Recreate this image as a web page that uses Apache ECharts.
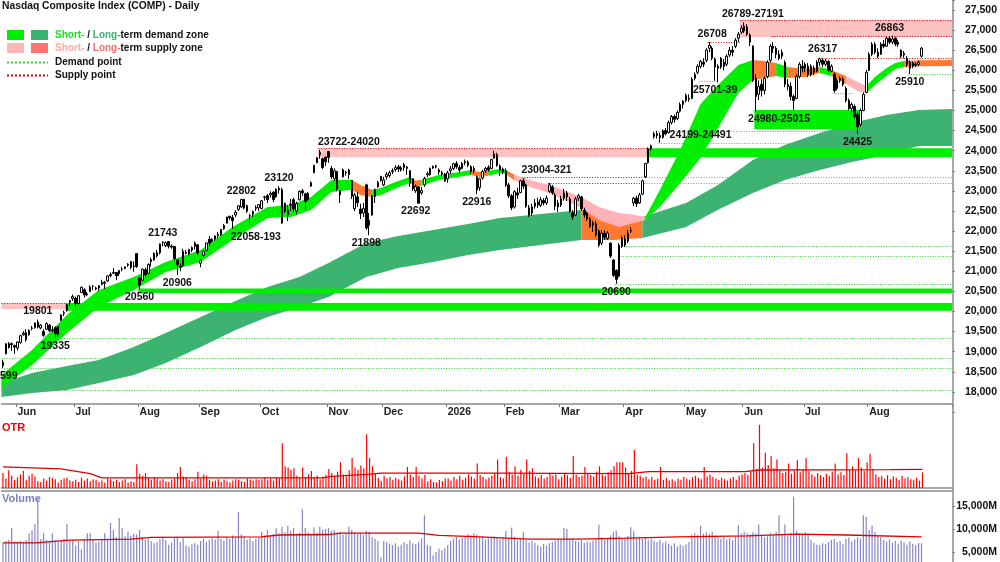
<!DOCTYPE html>
<html><head><meta charset="utf-8">
<script src="https://cdn.jsdelivr.net/npm/echarts@6/dist/echarts.min.js"></script>
<style>html,body{margin:0;padding:0;background:#fff}#c{width:1000px;height:562px}</style>
</head><body><div id="c"></div>
<script>
// ---------- categories ----------
const holidays = ['2025-05-26','2025-06-19','2025-07-04','2025-09-01','2025-11-27','2025-12-25','2026-01-01','2026-01-19','2026-02-16','2026-04-03','2026-05-25','2026-06-19','2026-07-03','2026-09-07'];
const firstDay = '2025-05-23';
const lastSlot = '2026-09-11';
const monthNames = ['Jan','Feb','Mar','Apr','May','Jun','Jul','Aug','Sep','Oct','Nov','Dec'];

// ---------- daily candles [open, close, low, high] ----------
const ohlc = [
// May 2025
[18650,18737,18599,18800],[18950,19199,18930,19210],[19200,19101,19080,19240],[19200,19175,19020,19230],[19150,19114,18950,19180],
// Jun 2025
[19090,19243,19030,19260],[19230,19399,19200,19420],[19420,19460,19400,19510],[19470,19298,19250,19560],[19420,19530,19400,19560],
[19580,19591,19530,19640],[19600,19715,19570,19730],[19740,19615,19580,19801],[19590,19662,19560,19690],[19500,19407,19370,19560],
[19560,19701,19540,19730],[19660,19521,19490,19690],[19530,19546,19480,19640],[19600,19447,19335,19630],[19430,19631,19370,19640],
[19780,19913,19760,19930],[19950,19973,19890,20020],[20020,20168,20000,20190],[20230,20273,20140,20290],[20320,20369,20260,20420],
// Jul 2025
[20330,20202,20130,20370],[20200,20394,20180,20400],[20470,20601,20460,20620],[20540,20412,20350,20580],[20440,20418,20380,20490],
[20500,20611,20480,20650],[20630,20630,20530,20660],[20560,20586,20530,20620],[20580,20640,20520,20660],[20720,20677,20650,20790],
[20700,20730,20560,20760],[20760,20885,20740,20900],[20920,20896,20850,20970],[20950,20974,20930,21080],[20970,20892,20780,20980],
[20940,21020,20880,21030],[21050,21058,21000,21110],[21070,21108,21050,21120],[21150,21178,21110,21200],[21240,21098,21050,21260],
[21110,21130,20990,21250],[21440,21122,21080,21457],
// Aug 2025
[20840,20650,20560,20860],[20780,21053,20760,21070],[21040,20916,20880,21090],[20950,21169,20930,21200],[21290,21242,21120,21340],
[21280,21450,21270,21470],[21460,21385,21340,21530],[21460,21681,21420,21690],[21730,21713,21620,21743],[21640,21710,21600,21740],
[21740,21623,21570,21740],[21600,21629,21560,21670],[21620,21315,21270,21630],[21280,21172,20906,21290],[21130,21100,21000,21200],
[21150,21497,21110,21560],[21470,21449,21420,21530],[21430,21544,21410,21560],[21530,21590,21480,21620],[21620,21705,21540,21740],
[21660,21455,21400,21670],
// Sep 2025
[21200,21279,21100,21300],[21400,21498,21360,21510],[21520,21707,21500,21710],[21800,21700,21630,21880],[21750,21798,21720,21820],
[21800,21879,21760,21890],[21920,21886,21820,21980],[21900,22043,21880,22050],[22060,22141,22030,22180],[22200,22348,22190,22360],
[22370,22333,22280,22380],[22340,22261,22058,22400],[22400,22470,22350,22520],[22540,22631,22500,22650],[22600,22789,22580,22800],
[22790,22573,22540,22802],[22630,22497,22450,22660],[22380,22384,22193,22430],[22420,22484,22350,22510],[22560,22591,22500,22640],
[22580,22660,22500,22670],
// Oct 2025
[22560,22755,22540,22770],[22850,22844,22760,22880],[22880,22780,22700,22920],[22900,22942,22830,22990],[22970,22788,22720,22990],
[22850,23044,22830,23060],[23060,23024,22930,23120],[23030,22204,22180,23080],[22500,22694,22450,22710],[22400,22521,22250,22650],
[22650,22670,22500,22800],[22780,22562,22470,22830],[22500,22680,22420,22730],[22780,22990,22760,23010],[23000,22953,22880,23050],
[22930,22740,22530,22950],[22780,22941,22760,22970],[23120,23205,23100,23240],[23450,23637,23440,23650],[23700,23827,23690,23840],
[23900,23958,23800,24020],[23800,23581,23540,23830],[23840,23725,23620,23850],
// Nov 2025
[23980,23834,23700,23990],[23560,23349,23300,23620],[23300,23499,23250,23560],[23480,23054,23000,23500],[22900,23004,22700,23010],
[23350,23527,23330,23560],[23450,23468,23380,23500],[23520,23406,23300,23550],[23260,22870,22800,23270],[22560,22900,22500,22950],
[22850,22708,22600,22980],[22550,22432,22300,22680],[22450,22564,22350,22700],[23150,22078,22030,23180],[22150,22273,21898,22450],
[22400,22872,22380,22900],[22860,23025,22700,23060],[23100,23214,23080,23250],[23260,23365,23230,23370],
// Dec 2025
[23150,23275,23120,23350],[23350,23413,23280,23470],[23380,23454,23330,23500],[23480,23505,23420,23560],[23530,23578,23480,23640],
[23600,23545,23470,23650],[23520,23576,23480,23620],[23580,23654,23500,23700],[23560,23593,23400,23620],[23500,23195,23100,23520],
[23300,23057,23000,23320],[23000,23111,22950,23160],[23100,22693,22692,23120],[22950,23006,22900,23100],[23150,23307,23100,23350],
[23400,23428,23340,23480],[23400,23562,23380,23580],[23570,23613,23550,23630],[23620,23593,23560,23650],[23520,23474,23400,23560],
[23450,23419,23380,23500],[23420,23242,23230,23440],
// Jan 2026
[23300,23450,23200,23500],[23500,23550,23420,23620],[23560,23680,23520,23700],[23680,23600,23550,23740],[23580,23520,23460,23640],
[23560,23690,23540,23720],[23700,23730,23640,23780],[23720,23640,23590,23760],[23600,23480,23420,23640],[23500,23560,23440,23620],
[23350,23020,22916,23380],[23080,23300,23000,23330],[23320,23480,23280,23520],[23500,23560,23450,23600],[23580,23520,23480,23640],
[23560,23780,23540,23800],[23820,23920,23800,24000],[23900,23640,23600,23950],[23620,23520,23380,23660],[23540,23480,23420,23580],
// Feb 2026
[23500,23150,23100,23560],[23150,22880,22820,23200],[22880,22580,22520,22920],[22600,22980,22560,23020],[22950,22900,22800,23080],
[22960,23250,22940,23280],[23250,23120,23050,23321],[23150,22620,22580,23180],[22580,22400,22350,22650],[22450,22600,22380,22680],
[22620,22700,22560,22800],[22720,22650,22580,22830],[22640,22780,22600,22850],[22760,22700,22640,22820],[22700,22820,22650,22880],
[22990,23150,22950,23200],[23100,22950,22900,23150],[22900,22620,22520,22950],[22600,22700,22480,22780],
// Mar 2026
[22650,22800,22600,22880],[22820,22950,22760,23050],[22950,22850,22750,23000],[22800,22500,22450,22850],[22450,22350,22275,22520],
[22400,22800,22380,22850],[22820,22880,22750,22930],[22850,22550,22500,22880],[22520,22400,22330,22580],[22450,22300,22250,22480],
[22300,22120,22080,22350],[22150,22200,21980,22260],[22180,21900,21850,22250],[22000,21650,21600,22050],[21700,21950,21650,22030],
[21950,21850,21780,22020],[21820,21950,21780,22000],[21700,21380,21330,21720],[21280,20900,20860,21300],[21020,20800,20690,21050],
[20880,21650,20850,21700],[21620,21830,21580,21880],
// Apr 2026
[21800,21650,21600,21900],[21750,21950,21700,22030],[22000,22020,21950,22100],[22700,22820,22620,22850],[22820,22680,22600,22880],
[22700,22900,22680,22950],[22920,23250,22900,23280],[23350,23680,23320,23700],[23700,24050,23680,24080],[24050,24120,24000,24150],
[24350,24420,24300,24470],[24420,24380,24300,24491],[24380,24330,24199,24450],[24330,24500,24300,24530],[24500,24420,24380,24560],
[24450,24700,24430,24750],[24700,24850,24650,24890],[24850,24780,24700,24900],[24800,24950,24760,25000],[24980,25150,24950,25200],
[25150,25230,25050,25260],
// May 2026
[25250,25380,25200,25420],[25300,25280,25220,25400],[25300,25780,25280,25830],[25800,25900,25750,25950],[25950,26100,25900,26150],
[26100,26220,26050,26260],[26200,26150,26080,26300],[26250,26500,26200,26550],[26550,26620,26450,26708],[26550,26300,26250,26600],
[26280,26080,25739,26320],[26100,26050,25701,26150],[26080,26300,26030,26330],[26200,26100,26000,26280],[26150,26350,26100,26400],
[26380,26500,26330,26580],[26500,26450,26350,26600],[26600,26750,26550,26800],[26800,26900,26700,26950],[26950,27050,26900,27120],
// Jun 2026
[26980,27100,26930,27191],[27080,26900,26850,27150],[26880,26700,26600,26920],[26600,25750,25710,26620],[25800,25350,24980,25900],
[25400,25600,25260,25750],[25650,25500,25350,25780],[25500,25800,25400,25850],[25850,26200,25800,26250],[26250,26600,26200,26650],
[26600,26550,26430,26700],[26550,26400,26300,26600],[26400,26300,26250,26500],[26350,26450,26280,26520],[26200,25650,25580,26250],
[25650,25600,25500,25780],[25600,25350,25250,25700],[25350,25250,25015,25400],[25300,25850,25280,25900],[25850,26150,25800,26200],
[26100,26050,25950,26250],
// Jul 2026
[26050,26150,25950,26200],[26100,25900,25830,26180],[25900,26100,25850,26150],[26050,25950,25880,26120],[25980,26200,25950,26250],
[26200,26280,26100,26317],[26250,26150,26080,26300],[26150,26230,26100,26280],[26220,26000,25960,26250],[25980,26100,25950,26150],
[25900,25500,25440,25950],[25550,25750,25500,25800],[25750,25800,25690,25850],[25780,25650,25600,25830],[25550,25250,25200,25600],
[25250,25050,25010,25300],[25050,25150,24950,25200],[25100,24850,24800,25150],[24900,24600,24425,24950],[24650,25000,24600,25050],
[25000,25400,24980,25450],[25450,25950,25430,26010],
// Aug 2026
[26000,26400,25980,26450],[26400,26650,26350,26700],[26650,26450,26400,26700],[26450,26350,26300,26550],[26400,26650,26380,26700],
[26650,26600,26550,26750],[26600,26800,26580,26830],[26800,26700,26650,26850],[26700,26780,26650,26863],[26800,26650,26600,26830],
[26650,26700,26580,26760],[26500,26350,26300,26520],[26380,26420,26300,26480],[26300,26150,26080,26350],[26200,26050,25910,26250],
[26100,26180,26050,26220],[26150,26130,26080,26200],[26150,26200,26100,26250],[26350,26550,26320,26580]
];

// ---------- OTR (relative units) ----------
const otr = [
22,14,26,18,12,
16,20,25,12,18,21,17,10,9,14,11,16,15,13,8,12,14,15,11,10,
12,9,15,11,14,10,13,12,9,11,8,14,13,10,12,9,11,13,8,10,9,35,
21,18,22,15,12,16,14,11,13,10,9,12,14,22,31,17,15,12,10,13,24,
14,20,18,12,10,11,13,9,12,10,8,11,13,12,10,9,14,12,11,13,12,
13,15,12,14,11,16,14,66,32,30,27,29,18,14,30,16,20,25,15,18,13,17,19,
28,22,18,24,38,20,17,26,44,30,27,33,29,79,44,32,22,15,10,
18,14,16,12,15,13,11,17,31,20,16,31,18,14,19,10,13,9,8,12,10,14,
14,11,16,13,18,12,15,20,17,14,36,19,16,13,15,18,22,42,16,14,
46,24,20,32,18,27,21,42,25,29,17,15,19,14,16,22,18,20,13,
17,22,19,15,47,20,16,18,31,21,19,17,24,32,20,18,23,26,32,38,38,38,
30,22,25,56,20,18,15,17,13,16,12,14,31,12,15,11,13,10,14,12,16,
14,12,16,18,15,13,31,17,20,16,14,12,15,13,11,14,16,12,18,20,
22,19,24,66,28,93,30,52,34,47,29,42,26,22,24,36,21,25,41,23,27,
44,25,20,17,22,19,16,21,18,24,36,20,23,19,51,27,32,26,44,30,25,38,
50,28,20,16,18,14,19,13,17,15,12,18,14,16,13,12,15,11,23
];
const otrAvg = [[0,31],[20,28],[30,21],[34,15],[110,15],[113,17],[125,20],[130,22],[170,22],[215,21],[222,24],[255,24],[260,26.5],[305,27],[316,27.5]];

// ---------- Volume (millions) ----------
const volume = [
7000,7400,7600,10200,7300,
7200,7400,7100,7600,9100,9800,11100,16700,7800,9100,7600,7400,9100,7500,7300,7600,7900,11100,7400,7600,
6400,7300,5600,7700,9100,9100,7600,7000,7300,7900,9100,7600,11300,9800,8200,12400,10200,8400,9400,8600,9000,8800,
9800,8200,7600,7900,7400,6900,7100,7800,8300,7600,6600,7000,8100,8300,7200,8000,6400,6200,6700,6900,6600,
7400,7900,7200,7600,8000,7700,9600,7800,7500,8200,7900,8600,8100,13700,8800,8300,7700,8000,7400,7900,8200,
9400,8600,9800,8700,8900,10200,9100,10500,9300,10700,9600,10200,9000,9200,14300,10200,9300,8900,10400,9200,10500,9800,10000,
10200,9600,9800,9200,9400,8800,9000,10500,9800,9300,8900,9100,8700,9600,9400,8200,7800,7400,3900,
7400,7200,6800,6500,6900,6200,6600,7100,6800,7500,6900,6700,7200,7900,13000,6600,6300,4300,5000,5700,5400,5800,
6500,7400,7900,8300,7700,8100,8400,8900,8700,9100,8800,8200,8500,7700,7900,8100,8400,8000,7800,8200,
9600,7800,10300,8300,7500,7900,9400,7600,7100,7400,7000,6500,6200,6800,6400,6900,7200,7500,7700,
7800,10200,10000,7900,8000,7400,7200,7600,7000,7300,7100,7500,7700,10900,8200,7600,7900,8600,9400,9600,8400,8000,
8200,8500,10400,9600,8000,8300,7800,8100,7600,7900,7400,7200,7600,7000,7300,6800,6400,6900,6200,6600,6300,
6700,7200,8800,9100,8700,10700,9000,9300,8900,9400,8600,8200,7900,8300,7700,8000,7600,8400,10800,9000,
9400,9100,8800,9300,9000,11000,8600,8200,8400,9100,8800,9400,13000,8900,11000,8600,9200,17000,9600,9100,8800,
9300,8700,7600,7000,6600,6500,6900,6700,7200,7600,7900,7100,7400,6800,7800,8100,7300,7700,8200,7900,13000,12600,
9800,10700,9400,8600,8200,7600,7300,7700,7000,7400,6800,7500,7100,6600,7300,6800,6500,7000,6900
];
const volAvg = [[0,7000],[11,7000],[23,7600],[44,7800],[51,8200],[89,8300],[95,8700],[112,8800],[116,9100],[143,9100],[150,8600],[164,8300],[181,7800],[198,7800],[215,8000],[232,8300],[256,8500],[273,8900],[290,8700],[316,8300]];

// ---------- long-term band (index, upper, lower) ----------
const longIdx = [0,10,22,33,45,56,68,80,91,102,112,125,136,148,160,171,185,199,210,220,235,246,258,269,281,292,304,315,326];
const longUp  = [18221,18470,18644,18793,19117,19465,19863,20261,20609,20858,21206,21704,21878,22027,22177,22326,22425,22525,22425,22351,22699,23150,23769,24142,24440,24689,24888,25012,25037];
const longLo  = [17873,17973,18047,18221,18420,18719,19117,19540,19863,20112,20361,20858,21082,21231,21405,21530,21654,21779,21779,21828,22102,22530,22948,23271,23520,23719,23893,24117,24117];
const longSegs = [[0,199,'demand'],[199,220,'supply'],[220,326,'demand']];

// ---------- short-term band ----------
const shortIdx = [0,10,22,33,45,56,68,79,91,99,106,113,120,123,127,130,135,140,142,144,150,156,161,164,167,171,173,176,182,188,199,205,212,216,221,226,233,240,246,253,258,262,266,270,276,281,285,290,294,297,300,304,307,310,316,326];
const shortUp  = [18420,19042,19913,20535,20858,21231,21530,22102,22600,22649,22848,23271,23280,23150,23030,23072,23220,23346,23250,23280,23395,23460,23520,23470,23500,23545,23520,23400,23250,23147,22848,22600,22450,22420,22351,23022,24017,25162,25634,26132,26256,26231,26182,26082,26032,26082,26007,25858,25709,25609,25833,26057,26182,26231,26250,26256];
const shortLo  = [18097,18669,19465,20112,20535,20982,21231,21779,22326,22351,22525,22972,23030,22900,22850,22898,23060,23196,23100,23130,23271,23340,23395,23346,23380,23445,23420,23260,23080,22948,22574,22276,22102,22180,22276,22600,23196,23818,24565,25435,25759,25808,25858,25808,25833,25933,25858,25659,25485,25435,25634,25858,26032,26082,26100,26107];
const shortSegs = [[0,120,'demand'],[120,127,'turn'],[127,140,'demand'],[140,144,'turn'],[144,161,'demand'],[161,167,'turn'],[167,173,'demand'],[173,176,'turn'],[176,221,'supply'],[221,258,'demand'],[258,266,'turn'],[266,270,'demand'],[270,281,'turn'],[281,285,'demand'],[285,290,'turn'],[290,297,'supply'],[297,310,'demand'],[310,326,'turn']];

// ---------- zones [fromIdx, toIdx, low, high, kind] ----------
const zones = [
[0,22,20060,20210,'supply'],
[22,326,20020,20210,'demand'],
[47,326,20460,20570,'demand'],
[109,222,23840,24060,'supply'],
[222,326,23840,24060,'demand'],
[254,326,26830,27250,'supply'],
[259,294,24540,25015,'demand']
];

// ---------- demand / supply points [fromIdx, toIdx, level, kind] ----------
const levels = [
[0,326,18050,'demand'],[0,326,18599,'demand'],[0,326,18843,'demand'],[18,326,19335,'demand'],
[0,22,20210,'supply'],[109,222,24060,'supply'],[179,221,23340,'supply'],[188,221,23200,'supply'],
[221,326,23340,'demand'],[221,326,23200,'demand'],[211,326,20690,'demand'],[213,326,21380,'demand'],[214,326,21629,'demand'],
[225,326,24491,'demand'],[226,326,24199,'demand'],[240,246,25739,'demand'],[286,292,25440,'demand'],[312,326,25910,'demand'],
[243,253,26708,'supply'],[254,326,27250,'supply'],[265,326,26863,'supply'],[281,326,26317,'supply']
];

// ---------- annotations [text, index, level, side] ----------
const notes = [
['18599',0,18599,'below'],['19801',12,19801,'above'],['19335',18,19335,'below'],['20560',47,20560,'below'],
['21743',55,21743,'above'],['20906',60,20906,'below'],['22802',82,22802,'above'],['22058-193',87,22058,'below'],
['23120',95,23120,'above'],['23722-24020',119,24020,'above'],['21898',125,21898,'below'],['22692',142,22692,'below'],
['22916',163,22916,'below'],['23004-321',187,23321,'above'],['20690',211,20690,'below'],['24199-24491',240,24199,'above'],
['26708',244,26708,'above'],['25701-39',245,25701,'below'],['26789-27191',258,27191,'above'],['24980-25015',267,24980,'below'],
['26317',282,26317,'above'],['24425',294,24425,'below'],['26863',305,26863,'above'],['25910',312,25910,'below']
];

// ================= build =================
const FONT = '"Liberation Sans", Arial, Helvetica, sans-serif';
const days = [];
(function(){
  let t = Date.parse(firstDay + 'T00:00:00Z');
  const end = Date.parse(lastSlot + 'T00:00:00Z');
  while (t <= end) {
    const d = new Date(t); const wd = d.getUTCDay(); const s = d.toISOString().slice(0,10);
    if (wd > 0 && wd < 6 && holidays.indexOf(s) < 0) days.push(s);
    t += 86400000;
  }
})();
const isMonthStart = (i) => i > 0 && i < ohlc.length && days[i].slice(5,7) !== days[i-1].slice(5,7);

const C = {
  shortDemand: '#00ee00', longDemand: '#3cb371', turn: '#ff7a30', shortSupply: '#ffb3b8',
  zoneSupply: '#ffc2c2', dotDemand: '#33d433', dotSupply: '#e00000'
};
const shortColors = {demand: C.shortDemand, turn: C.turn, supply: C.shortSupply};
const longColors = {demand: C.longDemand, supply: C.turn};
const lastIdx = days.length - 1;

function ext(i, half) { return i === 0 ? -half : (i >= lastIdx ? half : 0); }

function bandSeries(idx, up, lo, segs, colors, z) {
  return {
    type: 'custom', xAxisIndex: 0, yAxisIndex: 0, z: z, silent: true, clip: true,
    data: segs.map((s, k) => [s[0], up[idx.indexOf(s[0])], k]),
    encode: {x: 0, y: 1},
    renderItem: function (params, api) {
      const seg = segs[api.value(2)];
      const half = api.size([1, 0])[0] / 2;
      const top = [], bot = [];
      for (let j = 0; j < idx.length; j++) {
        const i = idx[j];
        if (i < seg[0] || i > seg[1]) continue;
        const dx = ext(i, half);
        const a = api.coord([i, up[j]]), b = api.coord([i, lo[j]]);
        top.push([a[0] + dx, a[1]]); bot.push([b[0] + dx, b[1]]);
      }
      return {type: 'polygon', shape: {points: top.concat(bot.reverse())}, style: {fill: colors[seg[2]]}};
    }
  };
}
function zoneSeries(kind, color, z) {
  const list = zones.filter(r => r[4] === kind);
  return {
    type: 'custom', xAxisIndex: 0, yAxisIndex: 0, z: z, silent: true, clip: true,
    data: list.map((r, k) => [r[0], r[3], k]), encode: {x: 0, y: 1},
    renderItem: function (params, api) {
      const r = list[api.value(2)];
      const half = api.size([1, 0])[0] / 2;
      const p1 = api.coord([r[0], r[3]]), p2 = api.coord([r[1], r[2]]);
      const x1 = p1[0] - half, x2 = p2[0] + half;
      return {type: 'rect', shape: {x: x1, y: p1[1], width: x2 - x1, height: p2[1] - p1[1]}, style: {fill: color}};
    }
  };
}
function levelSeries(z) {
  return {
    type: 'custom', xAxisIndex: 0, yAxisIndex: 0, z: z, silent: true, clip: true,
    data: levels.map((r, k) => [r[0], r[2], k]), encode: {x: 0, y: 1},
    renderItem: function (params, api) {
      const r = levels[api.value(2)];
      const half = api.size([1, 0])[0] / 2;
      const p1 = api.coord([r[0], r[2]]), p2 = api.coord([r[1], r[2]]);
      const y = Math.round(p1[1]) + 0.5;
      return {type: 'line', shape: {x1: p1[0] - half, y1: y, x2: p2[0] + half, y2: y},
        style: {stroke: r[3] === 'demand' ? C.dotDemand : C.dotSupply, lineWidth: 1, lineDash: [1, 1.6]}};
    }
  };
}
function noteSeries(z) {
  return {
    type: 'custom', xAxisIndex: 0, yAxisIndex: 0, z: z, silent: true, clip: false,
    data: notes.map((n, k) => [n[1], n[2], k]), encode: {x: 0, y: 1},
    renderItem: function (params, api) {
      const n = notes[api.value(2)];
      const p = api.coord([n[1], n[2]]);
      return {type: 'text', x: p[0], y: p[1] + (n[3] === 'above' ? -8 : 8),
        style: {text: n[0], fill: '#111', font: 'bold 10.5px ' + FONT, align: 'center', verticalAlign: 'middle'}};
    }
  };
}

const chart = echarts.init(document.getElementById('c'), null, {renderer: 'canvas'});
const legendFont = 'bold 10px ' + FONT;
chart.setOption({
  animation: false,
  backgroundColor: '#ffffff',
  textStyle: {fontFamily: FONT},
  title: {text: 'Nasdaq Composite Index (COMP) - Daily', left: 2, top: 1.5, padding: 0,
    textStyle: {fontSize: 10.3, fontWeight: 'bold', color: '#111', fontFamily: FONT}},
  grid: [
    {left: 1.5, right: 47, top: 0, height: 412},
    {left: 1.5, right: 47, top: 419, height: 69},
    {left: 1.5, right: 47, top: 490.5, bottom: 0}
  ],
  xAxis: [
    {type: 'category', gridIndex: 0, data: days, boundaryGap: true, offset: -8,
      axisLine: {lineStyle: {color: '#8a8a8a', width: 1.5}},
      axisTick: {show: true, interval: (i) => isMonthStart(i), length: 3, lineStyle: {color: '#777'}},
      axisLabel: {interval: (i) => isMonthStart(i), align: 'left', margin: 3, fontSize: 10.5, fontWeight: 'bold', color: '#222', fontFamily: FONT,
        formatter: (v) => { const m = +v.slice(5,7); return m === 1 ? v.slice(0,4) : monthNames[m-1]; }},
      splitLine: {show: false}},
    {type: 'category', gridIndex: 1, data: days, position: 'top', boundaryGap: true,
      axisLine: {lineStyle: {color: '#8a8a8a', width: 1.5}}, axisTick: {show: false}, axisLabel: {show: false}},
    {type: 'category', gridIndex: 2, data: days, position: 'top', boundaryGap: true,
      axisLine: {lineStyle: {color: '#8a8a8a', width: 1.5}}, axisTick: {show: false}, axisLabel: {show: false}}
  ],
  yAxis: [
    {type: 'value', gridIndex: 0, position: 'right', min: 17500, max: 27749, interval: 500,
      axisLine: {show: false}, axisTick: {show: true, length: 3, lineStyle: {color: '#888'}}, splitLine: {show: false},
      axisLabel: {align: 'right', margin: 45, fontSize: 10.5, fontWeight: 'bold', color: '#111', fontFamily: FONT,
        formatter: (v) => (v < 18000 || v > 27500) ? '' : v.toLocaleString('en-US')}},
    {type: 'value', gridIndex: 1, min: 0, max: 101.5, show: false},
    {type: 'value', gridIndex: 2, position: 'right', min: 2826, max: 18370, splitNumber: 3,
      axisLine: {show: false}, axisTick: {show: true, length: 3, lineStyle: {color: '#888'}}, splitLine: {show: false},
      axisLabel: {align: 'right', margin: 45, fontSize: 10.5, fontWeight: 'bold', color: '#111', fontFamily: FONT, showMinLabel: false, showMaxLabel: false,
        formatter: (v) => (v % 5000 !== 0) ? '' : v.toLocaleString('en-US') + 'M'}}
  ],
  series: [
    zoneSeries('supply', C.zoneSupply, 1),
    levelSeries(2),
    bandSeries(longIdx, longUp, longLo, longSegs, longColors, 3),
    zoneSeries('demand', C.shortDemand, 4),
    bandSeries(shortIdx, shortUp, shortLo, shortSegs, shortColors, 5),
    {type: 'candlestick', xAxisIndex: 0, yAxisIndex: 0, z: 10, data: ohlc, barWidth: 2,
      itemStyle: {color: '#ffffff', color0: '#000000', borderColor: '#000000', borderColor0: '#000000', borderWidth: 1}},
    noteSeries(12),
    {type: 'bar', xAxisIndex: 1, yAxisIndex: 1, data: otr, barWidth: 1.2, itemStyle: {color: '#ff0000'}, z: 2},
    {type: 'line', xAxisIndex: 1, yAxisIndex: 1, data: otrAvg, showSymbol: false, lineStyle: {color: '#dd0000', width: 1.3}, z: 3},
    {type: 'bar', xAxisIndex: 2, yAxisIndex: 2, data: volume, barWidth: 1.2, itemStyle: {color: '#8686c6'}, z: 2},
    {type: 'line', xAxisIndex: 2, yAxisIndex: 2, data: volAvg, showSymbol: false, lineStyle: {color: '#e00000', width: 1.3}, z: 3}
  ],
  graphic: [
    {type: 'line', shape: {x1: 953, y1: 0, x2: 953, y2: 562}, style: {stroke: '#8a8a8a', lineWidth: 1.5}, z: 100},
    {type: 'rect', shape: {x: 7, y: 30, width: 17, height: 10}, style: {fill: C.shortDemand}},
    {type: 'rect', shape: {x: 31, y: 30, width: 17, height: 10}, style: {fill: C.longDemand}},
    {type: 'rect', shape: {x: 7, y: 43, width: 17, height: 10}, style: {fill: '#ffb6b6'}},
    {type: 'rect', shape: {x: 31, y: 43, width: 17, height: 10}, style: {fill: '#ff7373'}},
    {type: 'line', shape: {x1: 7, y1: 62.5, x2: 48, y2: 62.5}, style: {stroke: C.dotDemand, lineWidth: 2, lineDash: [2, 2]}},
    {type: 'line', shape: {x1: 7, y1: 75.5, x2: 48, y2: 75.5}, style: {stroke: C.dotSupply, lineWidth: 2, lineDash: [2, 2]}},
    {type: 'text', x: 55, y: 35, style: {text: '{a|Short-} / {b|Long-}term demand zone', font: legendFont, fill: '#111', verticalAlign: 'middle',
      rich: {a: {fill: '#22dd22', font: legendFont}, b: {fill: '#3cb371', font: legendFont}}}},
    {type: 'text', x: 55, y: 48, style: {text: '{a|Short-} / {b|Long-}term supply zone', font: legendFont, fill: '#111', verticalAlign: 'middle',
      rich: {a: {fill: '#ffaaaa', font: legendFont}, b: {fill: '#ff6b6b', font: legendFont}}}},
    {type: 'text', x: 55, y: 62, style: {text: 'Demand point', font: legendFont, fill: '#111', verticalAlign: 'middle'}},
    {type: 'text', x: 55, y: 75, style: {text: 'Supply point', font: legendFont, fill: '#111', verticalAlign: 'middle'}},
    {type: 'text', x: 2, y: 428, style: {text: 'OTR', font: 'bold 11px ' + FONT, fill: '#ee0000', verticalAlign: 'middle'}},
    {type: 'text', x: 2, y: 499, style: {text: 'Volume', font: 'bold 11px ' + FONT, fill: '#8080c0', verticalAlign: 'middle'}}
  ]
});
</script>
</body></html>
